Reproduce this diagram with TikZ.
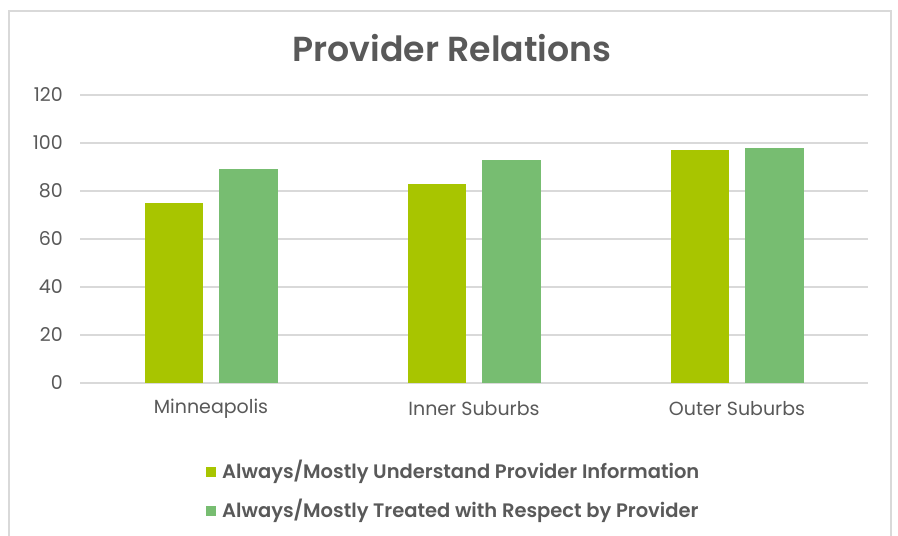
\documentclass[tikz,border=0pt]{standalone}
\usepackage{fontspec}
\setmainfont{Poppins}
\newfontfamily\medfont{Poppins SemiBold}
\definecolor{txt}{HTML}{595959}
\definecolor{grid}{HTML}{D9D9D9}
\definecolor{barA}{HTML}{A8C500}
\definecolor{barB}{HTML}{77BD71}
\tikzset{
  gridline/.style={draw=grid, line width=1.5pt},
  ylab/.style={anchor=east, text=txt, font=\fontsize{19}{19}\selectfont, inner sep=0pt},
  catlab/.style={anchor=center, text=txt, font=\fontsize{19}{19}\selectfont, inner sep=0pt},
  leglab/.style={anchor=west, text=txt, font=\medfont\fontsize{19.5}{19.5}\selectfont, inner sep=0pt},
  barAst/.style={fill=barA, draw=none},
  barBst/.style={fill=barB, draw=none},
}
\begin{document}
\begin{tikzpicture}[x=1pt, y=-1pt]
\useasboundingbox (0,0) rectangle (898,536);
\fill[white] (0,0) rectangle (898,536);
% frame
\draw[draw=grid, line width=1.5pt] (9,545) -- (9,11) -- (891,11) -- (891,545);
% title
\node[text=txt, font=\medfont\fontsize{34.7}{34.7}\selectfont, inner sep=0pt] (title) at (452,48) {Provider Relations};
% gridlines and y labels
\foreach \v [count=\i] in {0,20,40,60,80,100,120} {
  \pgfmathsetmacro{\yy}{383-2.4*\v}
  \draw[gridline] (80,\yy) -- (868,\yy);
  \node[ylab] (y\i) at (63,\yy) {\v};
}
% bars
\foreach \c/\a/\b [count=\j] in {211/75/89, 474/83/93, 737/97/98} {
  \fill[barAst] (\c-66,383) rectangle (\c-8,383-2.4*\a);
  \fill[barBst] (\c+8,383) rectangle (\c+67,383-2.4*\b);
}
\node[catlab] (c1) at (211,409) {Minneapolis};
\node[catlab] (c2) at (474,409) {Inner Suburbs};
\node[catlab] (c3) at (737,409) {Outer Suburbs};
% legend
\fill[barA] (206,467) rectangle (216,477);
\node[leglab] (l1) at (222,472) {Always/Mostly Understand Provider Information};
\fill[barB] (206,506) rectangle (216,516);
\node[leglab] (l2) at (222,511) {Always/Mostly Treated with Respect by Provider};
\end{tikzpicture}
\end{document}
